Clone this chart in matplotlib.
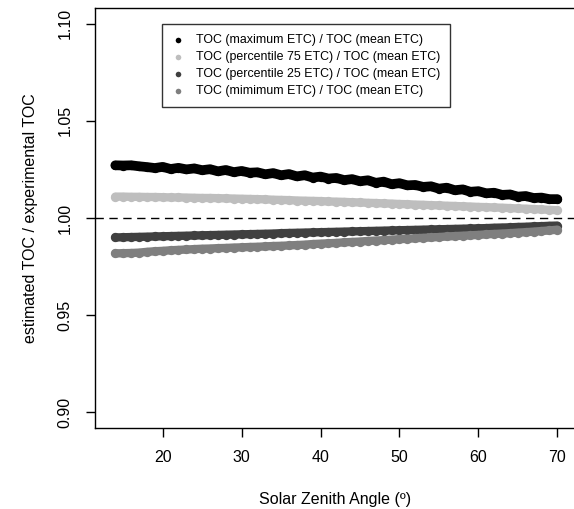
import matplotlib

matplotlib.use("Agg")
import matplotlib.pyplot as plt

plt.rcParams["font.family"] = ["Liberation Sans", "DejaVu Sans"]

# solar zenith angle (degrees), one reading per degree
sza = list(range(14, 71))

toc_max = [
    1.0271, 1.0270, 1.0271, 1.0266, 1.0262, 1.0257, 1.0263, 1.0252, 1.0258, 1.0250,
    1.0255, 1.0246, 1.0251, 1.0240, 1.0247, 1.0236, 1.0242, 1.0233, 1.0235, 1.0225,
    1.0231, 1.0220, 1.0226, 1.0214, 1.0220, 1.0208, 1.0213, 1.0203, 1.0206, 1.0195,
    1.0200, 1.0189, 1.0194, 1.0181, 1.0187, 1.0174, 1.0179, 1.0168, 1.0170, 1.0160,
    1.0163, 1.0151, 1.0156, 1.0143, 1.0147, 1.0135, 1.0138, 1.0127, 1.0130, 1.0119,
    1.0121, 1.0110, 1.0113, 1.0103, 1.0105, 1.0097, 1.0097,
]
toc_p75 = [
    1.0110, 1.0110, 1.0109, 1.0109, 1.0108, 1.0108, 1.0107, 1.0106, 1.0106, 1.0105,
    1.0104, 1.0103, 1.0103, 1.0102, 1.0101, 1.0100, 1.0099, 1.0098, 1.0097, 1.0096,
    1.0094, 1.0093, 1.0092, 1.0090, 1.0089, 1.0088, 1.0087, 1.0085, 1.0084, 1.0083,
    1.0081, 1.0080, 1.0078, 1.0077, 1.0075, 1.0074, 1.0072, 1.0071, 1.0069, 1.0068,
    1.0066, 1.0065, 1.0063, 1.0062, 1.0060, 1.0059, 1.0057, 1.0056, 1.0054, 1.0053,
    1.0051, 1.0049, 1.0048, 1.0046, 1.0044, 1.0042, 1.0040,
]
toc_p25 = [
    0.9900, 0.9901, 0.9902, 0.9903, 0.9904, 0.9905, 0.9906, 0.9907, 0.9908, 0.9909,
    0.9910, 0.9911, 0.9912, 0.9913, 0.9914, 0.9915, 0.9916, 0.9917, 0.9918, 0.9919,
    0.9920, 0.9922, 0.9923, 0.9924, 0.9925, 0.9926, 0.9927, 0.9928, 0.9929, 0.9930,
    0.9931, 0.9932, 0.9933, 0.9934, 0.9935, 0.9936, 0.9937, 0.9938, 0.9939, 0.9940,
    0.9941, 0.9942, 0.9943, 0.9944, 0.9945, 0.9946, 0.9947, 0.9948, 0.9950, 0.9951,
    0.9952, 0.9954, 0.9955, 0.9957, 0.9958, 0.9960, 0.9961,
]
toc_min = [
    0.9818, 0.9819, 0.9820, 0.9822, 0.9826, 0.9829, 0.9831, 0.9834, 0.9836, 0.9838,
    0.9840, 0.9842, 0.9843, 0.9845, 0.9846, 0.9848, 0.9849, 0.9851, 0.9852, 0.9854,
    0.9856, 0.9857, 0.9859, 0.9861, 0.9863, 0.9866, 0.9868, 0.9870, 0.9872, 0.9875,
    0.9877, 0.9879, 0.9882, 0.9884, 0.9886, 0.9889, 0.9891, 0.9893, 0.9896, 0.9898,
    0.9900, 0.9902, 0.9905, 0.9907, 0.9909, 0.9911, 0.9913, 0.9916, 0.9918, 0.9920,
    0.9922, 0.9925, 0.9927, 0.9930, 0.9933, 0.9936, 0.9940,
]

series = [
    ("TOC (maximum ETC) / TOC (mean ETC)", toc_max, "#000000", 7.0),
    ("TOC (percentile 75 ETC) / TOC (mean ETC)", toc_p75, "#bebebe", 6.0),
    ("TOC (percentile 25 ETC) / TOC (mean ETC)", toc_p25, "#404040", 6.0),
    ("TOC (mimimum ETC) / TOC (mean ETC)", toc_min, "#7f7f7f", 6.0),
]
x_ticks = [20, 30, 40, 50, 60, 70]
y_ticks = [0.90, 0.95, 1.00, 1.05, 1.10]

fig = plt.figure(figsize=(5.74, 5.09), dpi=100)
ax = fig.add_axes([95 / 574, 1 - 428 / 509, 480.9 / 574, 420 / 509])

# dense point clouds: a thick band under the dots so they read as one strip
for label, values, color, band in series:
    ax.plot(sza, values, color=color, linewidth=band, solid_capstyle="round",
            solid_joinstyle="round", zorder=2)
    ax.scatter(sza, values, s=45, color=color, linewidths=0, label=label, zorder=2)

ax.axhline(1.0, color="black", linewidth=1.0, linestyle=(0, (6, 4)), zorder=1)

ax.set_xlim(11.42, 72.36)
ax.set_ylim(0.892, 1.108)
ax.set_xticks(x_ticks)
ax.set_yticks(y_ticks)
ax.set_yticklabels([f"{v:.2f}" for v in y_ticks], rotation=90, va="center")
ax.tick_params(length=6.5, width=1.0, labelsize=11.5, pad=9.5)
ax.spines["right"].set_visible(False)
for side in ("left", "top", "bottom"):
    ax.spines[side].set_linewidth(1.0)

ax.set_xlabel("Solar Zenith Angle (º)", fontsize=11.5, labelpad=19)
ax.set_ylabel("estimated TOC / experimental TOC", fontsize=11.5, labelpad=14)

legend = ax.legend(
    loc="upper left",
    bbox_to_anchor=(0.139, 0.962),
    borderaxespad=0,
    fontsize=8.95,
    frameon=True,
    fancybox=False,
    edgecolor="black",
    handletextpad=0.95,
    handlelength=1.0,
    labelspacing=0.4,
    borderpad=0.8,
    markerscale=0.6,
)
legend.get_frame().set_linewidth(1.0)

fig.savefig("out.png", dpi=100)
plt.close(fig)
